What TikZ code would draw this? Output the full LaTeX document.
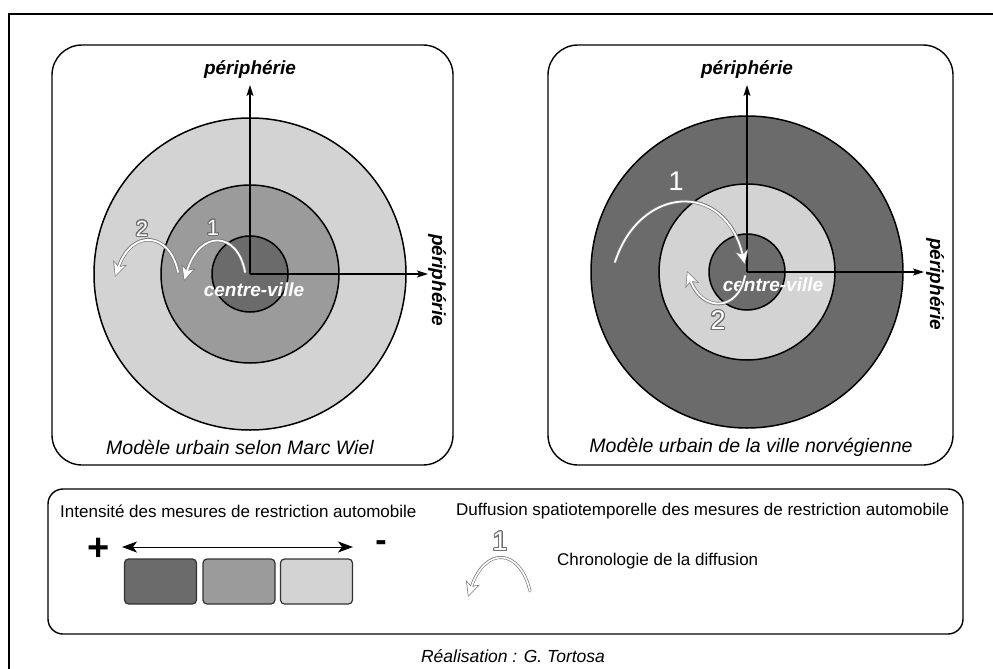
\documentclass[tikz,border=0pt]{standalone}
\usepackage{fontspec}
\setmainfont{Liberation Sans}
\usepackage{contour}
\usetikzlibrary{arrows.meta}
\definecolor{cdark}{HTML}{6B6B6B}
\definecolor{cmid}{HTML}{9B9B9B}
\definecolor{clight}{HTML}{D3D3D3}
\definecolor{cline}{HTML}{7A7A7A}
\definecolor{cnum}{HTML}{707070}
\definecolor{cbox}{HTML}{333333}
\contourlength{1.0pt}
\contournumber{32}
\begin{document}
\begin{tikzpicture}[x=1pt,y=-1pt,
  frame/.style={draw=black,line width=1.3pt},
  panel/.style={draw=black,line width=1.4pt,rounded corners=30pt},
  ring/.style={circle,draw=black,line width=1.5pt,inner sep=0pt},
  axis/.style={draw=black,line width=1.2pt,-{Stealth[length=11pt,width=7pt,inset=2.5pt]}},
  perilab/.style={font=\fontsize{19}{22}\selectfont\bfseries\itshape,inner sep=0pt},
  cvlab/.style={font=\fontsize{19}{22}\selectfont\bfseries\itshape,text=white,inner sep=0pt},
  titlelab/.style={font=\fontsize{19.5}{22}\selectfont\itshape,inner sep=0pt},
  legtext/.style={font=\fontsize{17}{20}\selectfont,inner sep=0pt,anchor=west},
  flowout/.style={draw=cline,line width=3.4pt,line cap=round,-{Stealth[length=15pt,width=14pt,inset=3.5pt]}},
  flowin/.style={draw=white,line width=1.8pt,line cap=round,shorten >=1.5pt,-{Stealth[length=12pt,width=11pt,inset=3pt]}},
  numlab/.style={inner sep=0pt},
  swatch/.style={draw=cbox,line width=1.2pt,rounded corners=4pt,minimum width=72pt,minimum height=45pt,inner sep=0pt},
]
\path[use as bounding box] (0,0) rectangle (993,669);
% outer frame (cropped at right and bottom)
\draw[frame] (9,690) -- (9,14) -- (1010,14);

% panels
\draw[panel] (52,45) rectangle (453,465);
\draw[panel] (548,45) rectangle (953,465);
\draw[draw=black,line width=1.4pt,rounded corners=15pt] (48,489) rectangle (963,634);

% ===== left model =====
\node[ring,fill=clight,minimum size=312pt] (outL) at (250,274) {};
\node[ring,fill=cmid,minimum size=178pt] (midL) at (250,274) {};
\node[ring,fill=cdark,minimum size=76pt] (inL) at (250,274) {};
\coordinate (cL) at (250,274);
\coordinate (topL) at (250,85);
\coordinate (rightL) at (428,274);
\draw[axis] (cL) -- (topL);
\draw[axis] (cL) -- (rightL);
\node[perilab] (pTopL) at (250,70) {périphérie};
\node[perilab,rotate=-90] (pRightL) at (437,280) {périphérie};
\node[cvlab] (cvL) at (254,290) {centre-ville};

\coordinate (l1s) at (245,272);
\coordinate (l1e) at (184,281);
\coordinate (l2s) at (178,272);
\coordinate (l2e) at (115,277);
\draw[flowout] (l1s) .. controls (238,232) and (200,228) .. (l1e);
\draw[flowin] (l1s) .. controls (238,232) and (200,228) .. (l1e);
\draw[flowout] (l2s) .. controls (170,232) and (132,228) .. (l2e);
\draw[flowin] (l2s) .. controls (170,232) and (132,228) .. (l2e);
\node[numlab,font=\fontsize{22}{24}\selectfont] (n1L) at (213,228) {\contour{cnum}{\textcolor{white}{1}}};
\node[numlab,font=\fontsize{22}{24}\selectfont] (n2L) at (142,229) {\contour{cnum}{\textcolor{white}{2}}};

\node[titlelab] (tL) at (240,447) {Modèle urbain selon Marc Wiel};

% ===== right model =====
\node[ring,fill=cdark,minimum size=312pt] (outR) at (747,272) {};
\node[ring,fill=clight,minimum size=176pt] (midR) at (747,272) {};
\node[ring,fill=cdark,minimum size=76pt] (inR) at (747,272) {};
\coordinate (cR) at (747,272);
\coordinate (topR) at (747,85);
\coordinate (rightR) at (924,272);
\draw[axis] (cR) -- (topR);
\draw[axis] (cR) -- (rightR);
\node[perilab] (pTopR) at (747,70) {périphérie};
\node[perilab,rotate=-90] (pRightR) at (935,284) {périphérie};
\node[cvlab] (cvR) at (773,285) {centre-ville};

\coordinate (r1s) at (615,262);
\coordinate (r1e) at (745,265);
\coordinate (r2s) at (745,276);
\coordinate (r2e) at (687,271);
\draw[flowout] (r1s) .. controls (640,185) and (725,180) .. (r1e);
\draw[flowin] (r1s) .. controls (640,185) and (725,180) .. (r1e);
\draw[flowout] (r2s) .. controls (738,312) and (702,312) .. (r2e);
\draw[flowin] (r2s) .. controls (738,312) and (702,312) .. (r2e);
\node[numlab,font=\fontsize{27}{30}\selectfont] (n1R) at (676,182) {\contour{cnum}{\textcolor{white}{1}}};
\node[numlab,font=\fontsize{27}{30}\selectfont] (n2R) at (718,321) {\contour{cnum}{\textcolor{white}{2}}};

\node[titlelab] (tR) at (751,447) {Modèle urbain de la ville norvégienne};

% ===== legend =====
\node[legtext] (legI) at (60,511) {Intensité des mesures de restriction automobile};
\node[legtext] (legD) at (456,511) {Duffusion spatiotemporelle des mesures de restriction automobile};
\node[inner sep=0pt,font=\fontsize{38}{38}\selectfont\bfseries] (plus) at (99,549) {+};
\node[inner sep=0pt,font=\fontsize{34}{34}\selectfont\bfseries] (minus) at (381,546) {-};
\coordinate (dl) at (122,547);
\coordinate (dr) at (353,547);
\draw[line width=0.9pt,{Stealth[length=15pt,width=11pt,inset=4pt]}-{Stealth[length=15pt,width=11pt,inset=4pt]}] (dl) -- (dr);
\node[swatch,fill=cdark] (sw1) at (160.5,581.5) {};
\node[swatch,fill=cmid] (sw2) at (239,581.5) {};
\node[swatch,fill=clight] (sw3) at (316.5,581.5) {};

\coordinate (gs) at (530,591);
\coordinate (ge) at (468,597);
\draw[flowout,line width=3pt] (gs) .. controls (520,548) and (485,546) .. (ge);
\draw[flowin,line width=1.6pt] (gs) .. controls (520,548) and (485,546) .. (ge);
\node[numlab,font=\fontsize{27}{30}\selectfont] (n1G) at (500,542) {\contour{cnum}{\textcolor{white}{1}}};
\node[legtext] (legC) at (557,561) {Chronologie de la diffusion};

\node[inner sep=0pt,font=\fontsize{17.5}{20}\selectfont\itshape] (real) at (513,656) {Réalisation : G. Tortosa};
\end{tikzpicture}
\end{document}
